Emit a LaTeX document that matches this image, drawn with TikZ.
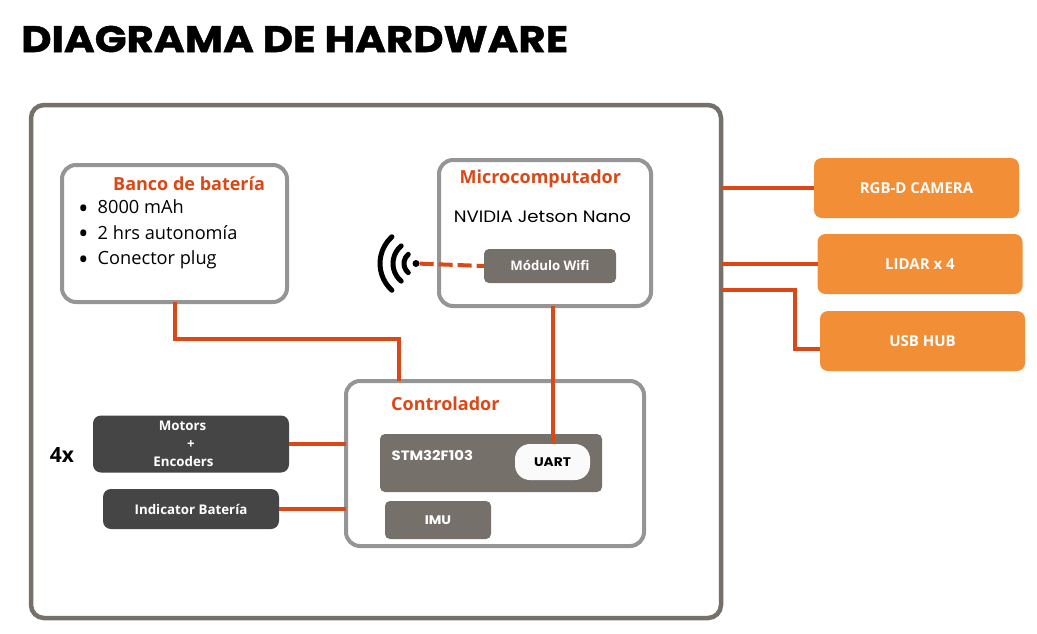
\documentclass[tikz,border=0pt]{standalone}
\usepackage{fontspec}
\usepackage{xcolor}
\setmainfont{Open Sans}
\newfontfamily\widefont{Poppins}[FakeStretch=1.1]
\newfontfamily\titlefont{Poppins}[FakeStretch=1.13, BoldFeatures={FakeBold=1.2}]
\usetikzlibrary{positioning}

\definecolor{framegray}{HTML}{75706A}
\definecolor{boxgray}{HTML}{959595}
\definecolor{darkbox}{HTML}{454545}
\definecolor{linkred}{HTML}{DC4716}
\definecolor{peri}{HTML}{F28E36}

\newcommand{\bigdot}{\raisebox{-4.5pt}{\fontsize{28}{28}\selectfont\textbullet}\hspace{9pt}}

\begin{document}
\begin{tikzpicture}[
  x=1pt, y=-1pt,
  frame/.style={
    rectangle, rounded corners=13pt,
    draw=framegray, fill=white, line width=4.5pt, outer sep=0pt,
    minimum width=690pt, minimum height=513pt},
  block/.style={
    rectangle, rounded corners=14pt,
    draw=boxgray, fill=white, line width=4pt, outer sep=0pt},
  chip/.style={
    rectangle, rounded corners=5pt,
    fill=framegray, text=white, outer sep=0pt, inner sep=0pt},
  ext/.style={
    rectangle, rounded corners=8pt,
    fill=peri, text=white, outer sep=0pt, inner sep=0pt,
    minimum width=205pt, minimum height=60pt,
    font=\fontsize{15}{17}\selectfont\bfseries},
  drive/.style={
    rectangle, rounded corners=8pt,
    fill=darkbox, text=white, outer sep=0pt, inner sep=0pt,
    align=center, font=\fontsize{13.3}{18}\selectfont\bfseries},
  head/.style={
    text=linkred, inner sep=0pt, anchor=west,
    font=\fontsize{18}{20}\selectfont\bfseries},
  link/.style={draw=linkred, line width=4pt},
  wave/.style={draw=black, line width=5pt, line cap=round}
]

\useasboundingbox (0,0) rectangle (1037,633);

%% Title
\node[anchor=west, inner sep=0pt, font=\fontsize{37}{40}\selectfont\titlefont\bfseries]
  (title) at (21,39) {DIAGRAMA DE HARDWARE};

%% Main frame and blocks
\node[frame] (main) at (376,361.5) {};
\node[block, minimum width=225pt, minimum height=137pt] (bat)  at (174.5,233.5) {};
\node[block, minimum width=212pt, minimum height=146pt] (micro) at (545,233) {};
\node[block, minimum width=298pt, minimum height=165pt] (ctrl) at (495,463.5) {};

%% Block labels
\node[head] (batT)   at (113,184) {Banco de batería};
\node[head] (microT) at (459.5,178.5) {Microcomputador};
\node[head] (ctrlT)  at (391,404) {Controlador};
\node[anchor=north west, inner sep=0pt, align=left,
      font=\fontsize{18.2}{25.7}\selectfont] (batL) at (78,199.5)
  {\bigdot 8000 mAh\\
   \bigdot 2 hrs autonomía\\
   \bigdot Conector plug};
\node[inner sep=0pt, font=\fontsize{16.5}{18}\selectfont\widefont] (jetson) at (542.5,217)
  {NVIDIA Jetson Nano};

%% Inner chips
\node[chip, minimum width=132pt, minimum height=34pt,
      font=\fontsize{13.2}{15}\selectfont\bfseries] (wifi) at (550,266) {Módulo Wifi};
\node[chip, minimum width=222pt, minimum height=58pt] (stm) at (491,463) {};
\node[anchor=west, inner sep=0pt, text=white,
      font=\fontsize{13.5}{15}\selectfont\widefont\bfseries] (stmT) at (391.5,455) {STM32F103};
\node[chip, rounded corners=15pt, fill=white!98!black, text=black,
      minimum width=75pt, minimum height=36pt,
      font=\fontsize{12.5}{14}\selectfont\widefont\bfseries] (uart) at (552.5,462) {UART};
\node[chip, minimum width=106pt, minimum height=38pt,
      font=\fontsize{12.5}{14}\selectfont\widefont\bfseries] (imu) at (438,520) {IMU};

%% Left drivers
\node[drive, minimum width=196pt, minimum height=57pt] (motors) at (191,444)
  {Motors\hspace*{17pt}\\[-0.2pt]+\hspace*{17pt}\\[-0.2pt]Encoders\hspace*{15pt}};
\node[drive, minimum width=176pt, minimum height=40pt] (ind) at (191,509) {Indicator Batería};
\node[inner sep=0pt, font=\fontsize{21}{23}\selectfont\bfseries] (four) at (62,455) {4x};

%% External devices
\node[ext] (rgb)   at (916.5,188) {RGB-D CAMERA};
\node[ext] (lidar) at (920,264)   {LIDAR x 4};
\node[ext] (usb)   at (922.5,341) {USB HUB};

%% Wifi antenna
\node[circle, fill=black, inner sep=0pt, minimum size=7pt] (ant) at (416,263.5) {};
\draw[wave] (ant.center) ++(130:12) arc[start angle=130, end angle=230, radius=12];
\draw[wave] (ant.center) ++(130:23) arc[start angle=130, end angle=230, radius=23];
\draw[wave] (ant.center) ++(132:36) arc[start angle=132, end angle=228, radius=36];

%% Connectors
\draw[link, dash pattern=on 14pt off 5pt] (ant) -- (wifi.west);
\draw[link] (bat.south -| 175,0) |- (399,339) -- (ctrl.north -| 399,0);
\draw[link] (micro.south -| uart.north) -- (uart.north);
\draw[link] (motors.east) -- (ctrl.west |- motors.east);
\draw[link] (ind.east) -- (ctrl.west |- ind.east);
\draw[link] (main.east |- rgb.west) -- (rgb.west);
\draw[link] (main.east |- lidar.west) -- (lidar.west);
\draw[link] (main.east |- 0,290) -| (795,349) -- (usb.west |- 0,349);

\end{tikzpicture}
\end{document}
